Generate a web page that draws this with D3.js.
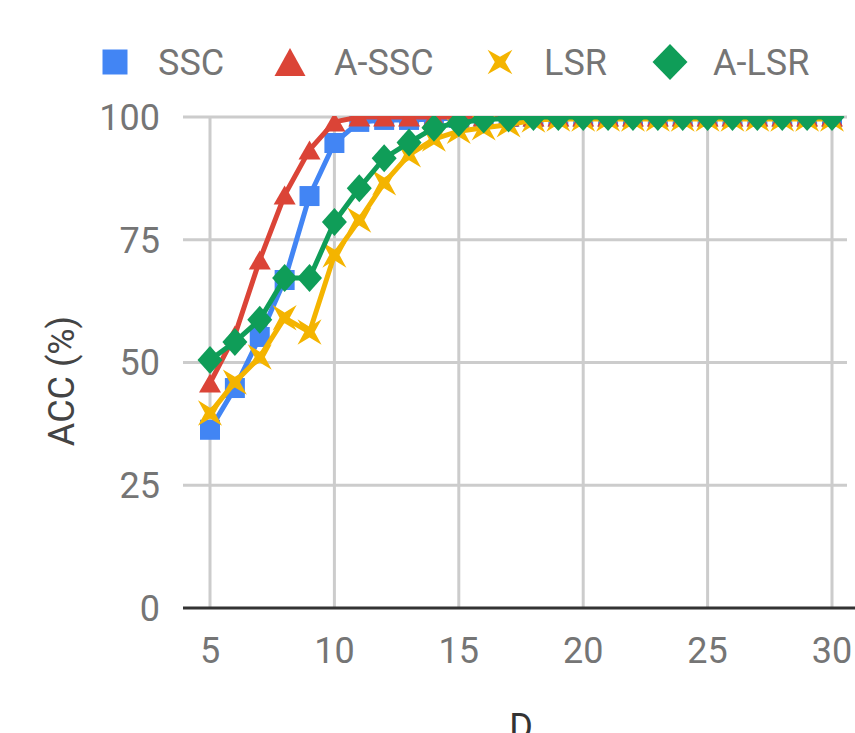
<!DOCTYPE html>
<html><head><meta charset="utf-8">
<script src="https://cdn.jsdelivr.net/npm/d3@7"></script>
<style>body{margin:0;background:#fff;}svg{display:block;font-family:Roboto,"Noto Sans",sans-serif;}</style>
</head><body>
<svg id="c" width="855" height="733"></svg>
<script>
const dims = [5,6,7,8,9,10,11,12,13,14,15,16,17,18,19,20,21,22,23,24,25,26,27,28,29,30];
const seriesNames = ["SSC","A-SSC","LSR","A-LSR"];
const ssc  = [36.3,44.8,55.2,66.8,83.9,94.7,99.0,99.4,99.4,99.6,99.8,100,100,100,100,100,100,100,100,100,100,100,100,100,100,100];
const assc = [45.8,55.6,70.9,84.1,93.3,99.0,100,100,100,100,100,100,100,100,100,100,100,100,100,100,100,100,100,100,100,100];
const lsr  = [39.7,46.0,51.1,59.1,56.2,71.9,79.0,86.6,92.3,95.5,97.1,97.8,98.4,99.4,99.6,99.6,99.6,99.6,99.6,99.6,99.6,99.6,99.6,99.6,99.6,99.6];
const alsr = [50.5,54.2,58.7,67.2,67.2,78.6,85.5,91.6,94.8,97.8,98.8,99.5,99.7,100,100,100,100,100,100,100,100,100,100,100,100,100];
const xTicks = [5,10,15,20,25,30];
const yTicks = [0,25,50,75,100];
const xTitle = "D", yTitle = "ACC (%)";

const colors = ["#4285F4","#DB4437","#F4B400","#0F9D58"];
const shapes = ["square","triangle","star","diamond"];
const allSeries = [ssc, assc, lsr, alsr];

const svg = d3.select("#c");
const x = d3.scaleLinear().domain([5,30]).range([210,832]);
const y = d3.scaleLinear().domain([0,100]).range([608,117]);
const left = 183, right = 847;

function shapePath(shape, sx, sy) {
  if (shape === "square") return `M${-sx},${-sy}H${sx}V${sy}H${-sx}Z`;
  if (shape === "triangle") return `M0,${-sy}L${sx},${sy}L${-sx},${sy}Z`;
  if (shape === "diamond") return `M0,${-sy}L${sx},0L0,${sy}L${-sx},0Z`;
  if (shape === "star") {
    const pts = [];
    for (let i = 0; i < 8; i++) {
      const a = Math.PI/4 + i*Math.PI/4;
      const r = i % 2 === 0 ? 1 : 0.3;
      pts.push([Math.cos(a)*r*sx, Math.sin(a)*r*sy]);
    }
    return "M" + pts.map(p => p[0].toFixed(2)+","+p[1].toFixed(2)).join("L") + "Z";
  }
}
const markerSize = {square:[10,10], triangle:[11,9.5], star:[17,18], diamond:[12.5,14]};

const grid = svg.append("g");
grid.selectAll("line.h").data(yTicks.filter(d => d !== 0)).join("line")
  .attr("x1", left).attr("x2", right).attr("y1", d => y(d)).attr("y2", d => y(d))
  .attr("stroke", "#cccccc").attr("stroke-width", 3);
grid.selectAll("line.v").data(xTicks).join("line")
  .attr("x1", d => x(d)).attr("x2", d => x(d)).attr("y1", y(100)).attr("y2", y(0))
  .attr("stroke", "#cccccc").attr("stroke-width", 3);

svg.append("line").attr("x1", left).attr("x2", 855).attr("y1", y(0)).attr("y2", y(0))
  .attr("stroke", "#333333").attr("stroke-width", 3);

svg.append("g").selectAll("text").data(yTicks).join("text")
  .attr("x", 160).attr("y", d => y(d)).attr("dy", "0.36em")
  .attr("text-anchor", "end").attr("font-size", 36).attr("fill", "#757575")
  .text(d => d);
svg.append("g").selectAll("text").data(xTicks).join("text")
  .attr("x", d => x(d)).attr("y", 663)
  .attr("text-anchor", "middle").attr("font-size", 36).attr("fill", "#757575")
  .text(d => d);
svg.append("text").attr("x", 521).attr("y", 739).attr("text-anchor", "middle")
  .attr("font-size", 36).attr("fill", "#333333").text(xTitle);
svg.append("text").attr("transform", "translate(74,381) rotate(-90)")
  .attr("text-anchor", "middle").attr("font-size", 36).attr("fill", "#444444").text(yTitle);

svg.append("clipPath").attr("id", "plotclip").append("rect")
  .attr("x", left).attr("y", 116).attr("width", right - left).attr("height", 520);

const plot = svg.append("g").attr("clip-path", "url(#plotclip)");
const line = d3.line().x((d, i) => x(dims[i])).y(d => y(d));
allSeries.forEach((vals, si) => {
  const g = plot.append("g");
  g.append("path").datum(vals).attr("d", line).attr("fill", "none")
    .attr("stroke", colors[si]).attr("stroke-width", 5).attr("stroke-linejoin", "round");
  const [sx, sy] = markerSize[shapes[si]];
  g.selectAll("path.m").data(vals).join("path").attr("class", "m")
    .attr("transform", (d, i) => `translate(${x(dims[i])},${y(d)})`)
    .attr("d", shapePath(shapes[si], sx, sy)).attr("fill", colors[si]);
});

const legendPos = [{mx:115, tx:158},{mx:290, tx:334},{mx:500, tx:544},{mx:670, tx:713}];
const legendSize = {square:[12.5,12.5], triangle:[15.5,14], star:[17.5,17.5], diamond:[17.5,18]};
const lg = svg.append("g");
seriesNames.forEach((name, si) => {
  const [sx, sy] = legendSize[shapes[si]];
  lg.append("path").attr("transform", `translate(${legendPos[si].mx},62)`)
    .attr("d", shapePath(shapes[si], sx, sy)).attr("fill", colors[si]);
  lg.append("text").attr("x", legendPos[si].tx).attr("y", 62).attr("dy", "0.36em")
    .attr("font-size", 36).attr("fill", "#757575").text(name);
});
</script>
</body></html>
